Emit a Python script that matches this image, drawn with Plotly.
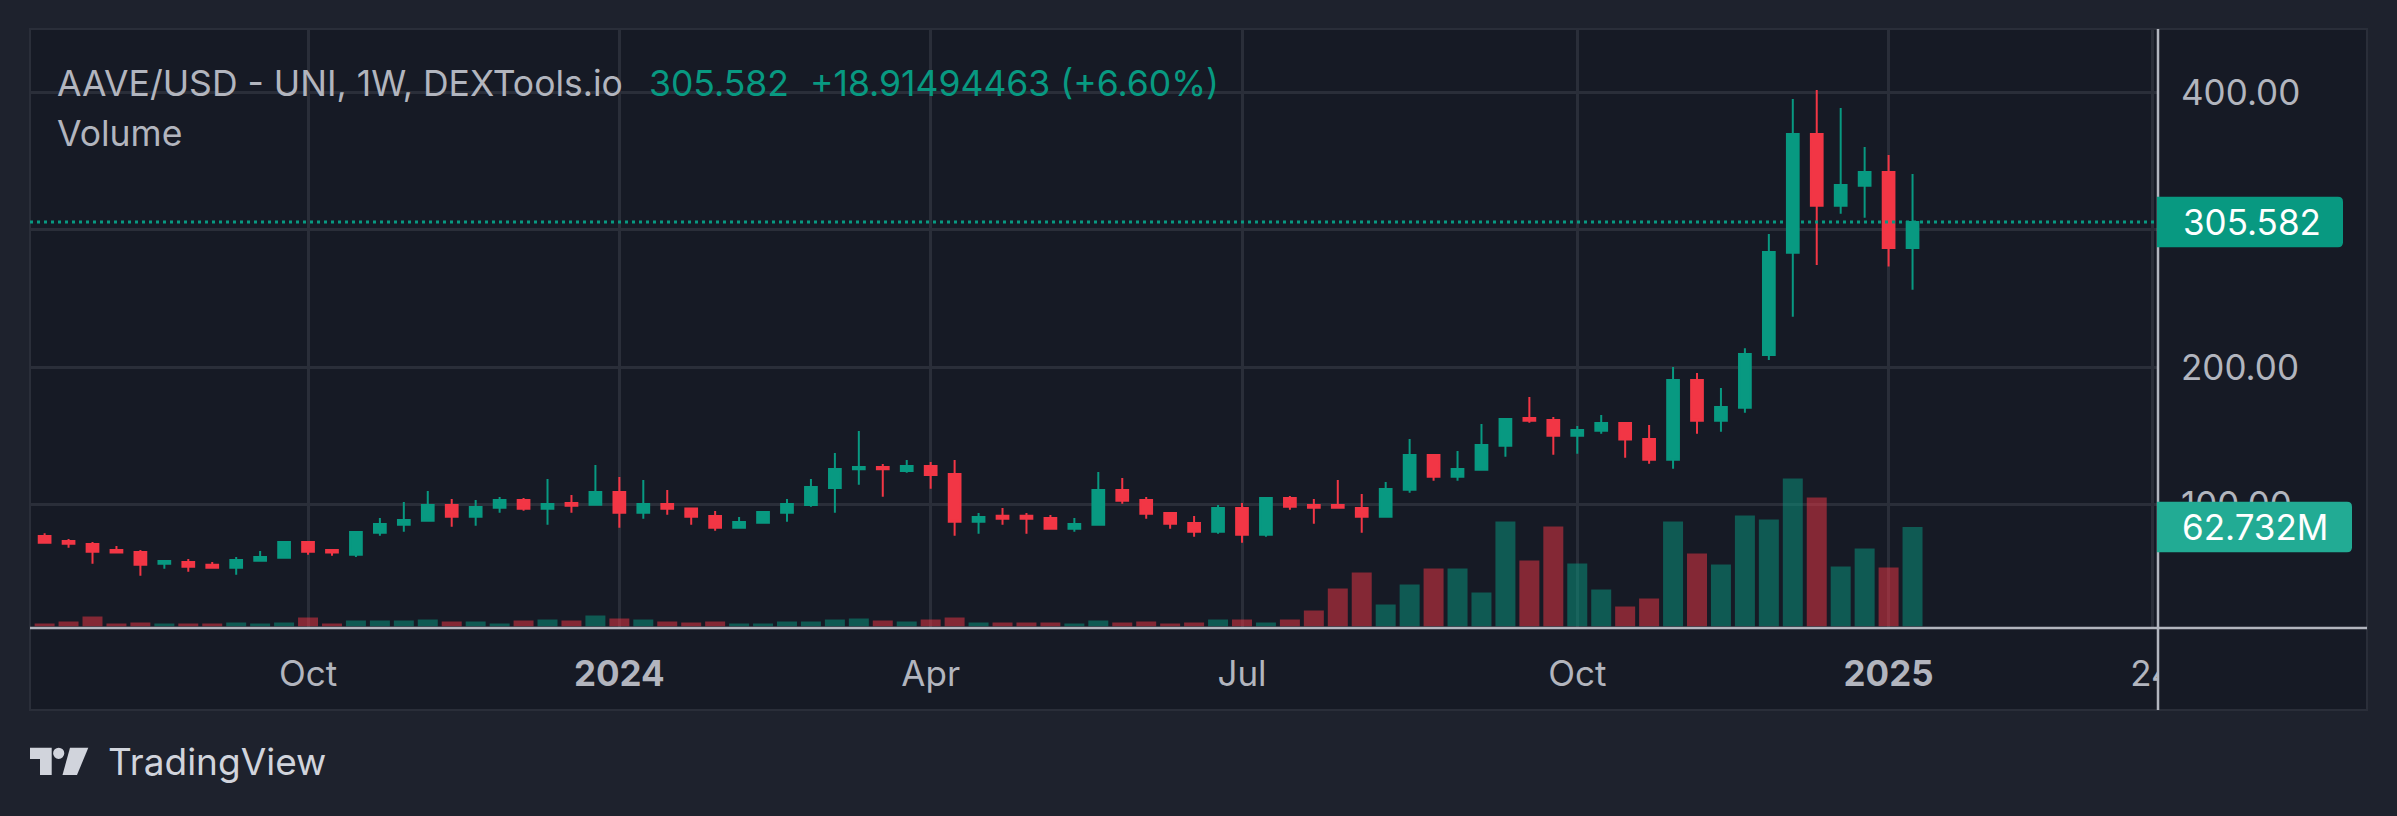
import plotly.graph_objects as go
import pandas as pd

W, H = 2397, 816

# ---------------- data (weekly AAVE/USD) ----------------
dates = pd.date_range("2023-07-17", periods=79, freq="W-MON")

open_ = [77.3, 73.7, 71.5, 67.1, 65.7, 57.2, 58.4, 56.4, 54.3, 59.3, 61.5,
         72.9, 67.1, 63.7, 79.7, 85.5, 88.4, 99.9, 91.3, 97.9, 103.5, 97.2,
         101.3, 100.1, 109.3, 94.2, 100.6, 97.4, 91.8, 83.4, 87.0, 94.2, 99.9,
         112.2, 125.8, 127.5, 124.6, 128.2, 122.4, 87.7, 92.0, 92.0, 90.4, 82.6,
         85.5, 110.8, 103.5, 94.0, 86.8, 80.4, 97.7, 78.3, 104.9, 99.9, 99.9,
         97.7, 91.3, 111.0, 136.2, 120.4, 125.5, 143.0, 163.1, 161.7, 150.3,
         153.9, 159.5, 147.9, 132.8, 190.8, 161.2, 170.6, 209.0, 283.3, 369.7,
         317.5, 332.1, 342.0, 286.667]
high = [79.3, 75.1, 72.9, 70.0, 67.1, 59.1, 60.6, 58.4, 62.0, 66.4, 72.9,
        72.9, 67.1, 80.2, 90.4, 102.0, 110.0, 104.2, 103.5, 105.7, 104.9, 118.8,
        107.1, 128.9, 120.2, 118.0, 110.8, 97.7, 95.5, 91.1, 95.5, 104.2, 118.8,
        137.7, 153.7, 129.7, 132.6, 131.1, 132.6, 94.0, 97.7, 94.0, 92.6, 90.4,
        123.9, 119.5, 105.7, 94.0, 91.8, 99.9, 101.3, 104.9, 106.4, 104.2, 118.0,
        107.9, 116.6, 147.9, 136.9, 139.1, 158.8, 162.4, 178.4, 163.9, 157.3,
        165.3, 160.2, 158.0, 200.2, 195.8, 185.0, 213.8, 296.9, 395.1, 401.7,
        388.6, 360.2, 354.4, 340.6]
low = [71.7, 68.8, 57.2, 64.5, 48.4, 53.5, 51.4, 53.5, 49.2, 59.3, 60.8,
       63.7, 63.0, 62.0, 77.5, 80.4, 88.4, 84.1, 84.8, 94.2, 95.7, 85.5,
       94.2, 99.3, 83.4, 89.9, 92.8, 85.5, 81.2, 82.6, 86.3, 87.7, 98.6,
       94.2, 114.6, 105.9, 123.3, 111.7, 77.5, 79.0, 85.5, 79.0, 82.6, 80.4,
       85.5, 100.8, 89.9, 82.6, 76.8, 79.0, 72.4, 76.8, 96.4, 86.3, 97.9,
       79.7, 90.6, 108.8, 117.5, 117.5, 125.5, 135.0, 159.7, 136.4, 137.2,
       151.7, 134.3, 129.9, 126.3, 151.7, 153.2, 167.0, 205.3, 236.8, 274.4,
       311.7, 308.8, 273.2, 256.4]
close = [72.4, 71.7, 65.9, 65.3, 56.4, 59.1, 55.0, 54.3, 59.9, 62.0, 72.9,
         65.9, 65.3, 80.2, 86.0, 88.9, 99.9, 91.3, 98.4, 103.5, 97.2, 100.6,
         99.3, 109.3, 94.2, 100.6, 97.2, 91.3, 83.4, 87.5, 94.8, 100.6, 112.9,
         126.0, 127.5, 125.8, 128.2, 121.7, 87.7, 91.1, 89.9, 89.9, 82.6, 86.0,
         110.8, 103.0, 93.5, 86.3, 80.4, 97.7, 78.3, 104.9, 98.6, 97.9, 97.9,
         91.3, 111.5, 136.2, 120.4, 126.0, 143.5, 162.4, 161.2, 150.3, 154.4,
         159.5, 147.4, 132.8, 190.8, 161.2, 171.1, 209.7, 283.9, 369.7, 317.5,
         332.6, 342.0, 286.667, 305.582]
volume_m = [1.9, 3.2, 6.3, 1.9, 2.5, 1.9, 1.9, 1.9, 2.5, 1.9, 2.5, 5.7, 1.9,
            3.8, 3.8, 3.8, 4.4, 3.2, 3.2, 1.9, 3.8, 4.4, 3.8, 6.9, 5.0, 4.4,
            3.2, 2.5, 3.2, 1.9, 1.9, 3.2, 3.2, 4.4, 5.0, 3.8, 3.2, 4.4, 5.7,
            2.5, 2.5, 2.5, 2.5, 1.9, 3.8, 2.5, 3.2, 1.9, 2.5, 4.4, 4.4, 2.5,
            4.4, 10.1, 24.0, 34.0, 13.9, 26.5, 36.6, 36.6, 21.4, 66.2, 41.6,
            63.0, 39.7, 23.3, 12.6, 17.6, 66.2, 46.0, 39.1, 70.0, 67.5, 93.3,
            81.3, 37.8, 49.2, 37.2, 62.732]

tick_dates = ["2023-10-02", "2024-01-01", "2024-04-01", "2024-07-01",
              "2024-10-07", "2025-01-06", "2025-03-24"]
tick_text = ["Oct", "<b>2024</b>", "Apr", "Jul", "Oct", "<b>2025</b>", "24"]
price_ticks = [100, 200, 300, 400]
# 300.00 sits fully under the last-price tag in the reference
price_tick_text = ["100.00", "200.00", "", "400.00"]

title_text = "AAVE/USD - UNI, 1W, DEXTools.io"
last_text = "305.582"
change_text = "+18.91494463 (+6.60%)"
vol_tag_text = "62.732M"

# ---------------- styling ----------------
GREEN = "#089981"
RED = "#f23645"
GREEN_V = "rgba(8,153,129,0.5)"
RED_V = "rgba(242,54,69,0.5)"
OUTER_BG = "#1e222d"
PANEL_BG = "#161a25"
GRID = "#2a2e39"
TEXT = "#b2b5be"
AXISLINE = "#b2b5be"
FONT = "Inter, Roboto, sans-serif"


def px(x):
    return x / W


def py(y):
    return 1 - y / H


# plot area in pixels
PL, PR, PT, PB = 30, 2158, 29, 626.5
week0 = pd.Timestamp("2023-10-02")
x_left = week0 + pd.Timedelta(days=-11.61 * 7)
x_right = week0 + pd.Timedelta(days=77.25 * 7)
WEEK_MS = 7 * 24 * 3600 * 1000

vol_colors = [GREEN_V if c >= o else RED_V for o, c in zip(open_, close)]

fig = go.Figure()
fig.add_trace(go.Bar(
    x=dates, y=volume_m, yaxis="y2", marker_color=vol_colors,
    marker_line_width=0, width=0.835 * WEEK_MS, hoverinfo="skip",
    showlegend=False))
fig.add_trace(go.Candlestick(
    x=dates, open=open_, high=high, low=low, close=close,
    increasing=dict(line=dict(color=GREEN, width=2), fillcolor=GREEN),
    decreasing=dict(line=dict(color=RED, width=2), fillcolor=RED),
    whiskerwidth=0, showlegend=False))

shapes = []
# chart panel
shapes.append(dict(type="rect", xref="paper", yref="paper", layer="below",
                   x0=px(30), x1=px(2367), y0=py(29), y1=py(710),
                   fillcolor=PANEL_BG, line=dict(color=GRID, width=2)))
# last price dotted line
shapes.append(dict(type="line", xref="paper", yref="y", layer="above",
                   x0=px(PL), x1=px(PR), y0=close[-1], y1=close[-1],
                   line=dict(color=GREEN, width=3, dash="3px,4px")))
# cover the clipped part of the last time label under the price scale
shapes.append(dict(type="rect", xref="paper", yref="paper", layer="above",
                   x0=px(2159), x1=px(2366), y0=py(705), y1=py(640),
                   fillcolor=PANEL_BG, line=dict(width=0)))
# price scale border and time scale border
shapes.append(dict(type="line", xref="paper", yref="paper", layer="above",
                   x0=px(2158), x1=px(2158), y0=py(29), y1=py(710),
                   line=dict(color=AXISLINE, width=2.5)))
shapes.append(dict(type="line", xref="paper", yref="paper", layer="above",
                   x0=px(30), x1=px(2367), y0=py(628), y1=py(628),
                   line=dict(color=AXISLINE, width=2.5)))


def tag_path(w, h, r):
    hh = h / 2
    return (f"M 0,{-hh} L {w - r},{-hh} Q {w},{-hh} {w},{-hh + r} "
            f"L {w},{hh - r} Q {w},{hh} {w - r},{hh} L 0,{hh} Z")


# last-price tag
shapes.append(dict(type="path", layer="above", xref="paper", yref="y",
                   xsizemode="pixel", ysizemode="pixel",
                   xanchor=px(2157), yanchor=close[-1],
                   path=tag_path(186, 50.5, 5), fillcolor=GREEN,
                   line=dict(width=0)))
# volume tag
shapes.append(dict(type="path", layer="above", xref="paper", yref="y2",
                   xsizemode="pixel", ysizemode="pixel",
                   xanchor=px(2157), yanchor=volume_m[-1],
                   path=tag_path(195, 50.5, 5), fillcolor="#22ab94",
                   line=dict(width=0)))

# TradingView logo
LOGO = "#d1d4dc"
shapes.append(dict(type="path", xref="paper", yref="paper", layer="above",
                   path=(f"M {px(30)},{py(747.7)} L {px(51.7)},{py(747.7)} "
                         f"L {px(51.7)},{py(775)} L {px(40)},{py(775)} "
                         f"L {px(40)},{py(759)} L {px(30)},{py(759)} Z"),
                   fillcolor=LOGO, line=dict(width=0)))
shapes.append(dict(type="circle", xref="paper", yref="paper", layer="above",
                   x0=px(53.1), x1=px(64.3), y0=py(759), y1=py(747.7),
                   fillcolor=LOGO, line=dict(width=0)))
shapes.append(dict(type="path", xref="paper", yref="paper", layer="above",
                   path=(f"M {px(70)},{py(747.7)} L {px(88.3)},{py(747.7)} "
                         f"L {px(77)},{py(775)} L {px(62.5)},{py(775)} Z"),
                   fillcolor=LOGO, line=dict(width=0)))

annotations = [
    dict(text=title_text, x=px(55), y=py(83.5), xref="paper", yref="paper",
         xanchor="left", yanchor="middle", showarrow=False,
         font=dict(family=FONT, size=35.5, color=TEXT)),
    dict(text=last_text, x=px(647), y=py(83.5), xref="paper", yref="paper",
         xanchor="left", yanchor="middle", showarrow=False,
         font=dict(family=FONT, size=35.5, color=GREEN)),
    dict(text=change_text, x=px(808), y=py(83.5), xref="paper", yref="paper",
         xanchor="left", yanchor="middle", showarrow=False,
         font=dict(family=FONT, size=35.5, color=GREEN)),
    dict(text="Volume", x=px(55), y=py(134), xref="paper", yref="paper",
         xanchor="left", yanchor="middle", showarrow=False,
         font=dict(family=FONT, size=35.5, color=TEXT)),
    dict(text=last_text, x=px(2181), y=close[-1], xref="paper", yref="y",
         xanchor="left", yanchor="middle", showarrow=False,
         font=dict(family=FONT, size=35, color="#ffffff")),
    dict(text=vol_tag_text, x=px(2180), y=volume_m[-1], xref="paper",
         yref="y2", xanchor="left", yanchor="middle", showarrow=False,
         font=dict(family=FONT, size=35, color="#ffffff")),
    dict(text="TradingView", x=px(106), y=py(761), xref="paper",
         yref="paper", xanchor="left", yanchor="middle", showarrow=False,
         font=dict(family=FONT, size=37, color=LOGO)),
]

fig.update_layout(
    width=W, height=H,
    margin=dict(l=0, r=0, t=0, b=0, pad=0, autoexpand=False),
    paper_bgcolor=OUTER_BG,
    plot_bgcolor="rgba(0,0,0,0)",
    showlegend=False,
    boxgap=0.3,
    font=dict(family=FONT, size=35, color=TEXT),
    xaxis=dict(
        domain=[px(PL), px(PR)], range=[x_left, x_right], type="date",
        rangeslider=dict(visible=False), automargin=False,
        tickmode="array", tickvals=tick_dates, ticktext=tick_text,
        showgrid=True, gridcolor=GRID, gridwidth=2.5,
        zeroline=False, showline=False, ticks="",
        ticklabelstandoff=23,
        tickfont=dict(family=FONT, size=35, color=TEXT),
    ),
    yaxis=dict(
        domain=[py(PB), py(PT)], range=[11.5, 446.0], side="right",
        automargin=False,
        tickmode="array", tickvals=price_ticks, ticktext=price_tick_text,
        showgrid=True, gridcolor=GRID, gridwidth=2.5,
        zeroline=False, showline=False, ticks="",
        ticklabelstandoff=22,
        tickfont=dict(family=FONT, size=35, color=TEXT),
    ),
    yaxis2=dict(
        overlaying="y", side="right", range=[0, 376.7], visible=False,
        showgrid=False, zeroline=False, automargin=False,
    ),
    shapes=shapes,
    annotations=annotations,
)

fig.write_html("out.html")
